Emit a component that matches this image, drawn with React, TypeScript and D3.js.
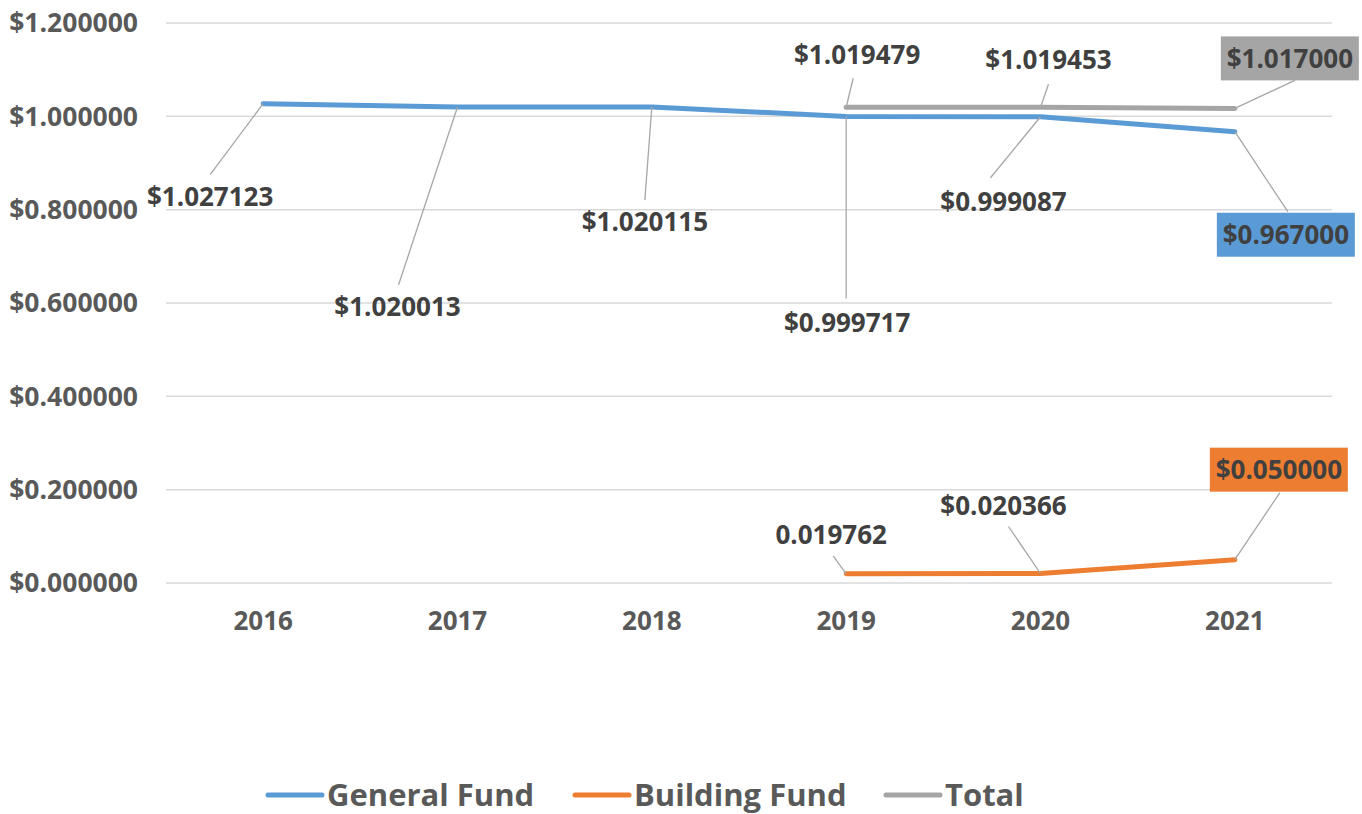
import React from "react";
import * as d3 from "d3";

const years = ["2016", "2017", "2018", "2019", "2020", "2021"];
const generalFund = [1.027123, 1.020013, 1.020115, 0.999717, 0.999087, 0.967];
const buildingFund = [null, null, null, 0.019762, 0.020366, 0.05];
const total = [null, null, null, 1.019479, 1.019453, 1.017];
const yTicks = [0, 0.2, 0.4, 0.6, 0.8, 1.0, 1.2];
const seriesNames = ["General Fund", "Building Fund", "Total"];
const colors = ["#5B9BD5", "#ED7D31", "#A5A5A5"];

// label placement: [seriesIndex, pointIndex, dx, dy, leaderDx, leaderDy, boxed, prefix$]
const labelPlacement: [number, number, number, number, number, number, boolean, boolean][] = [
  [0, 0, -53, 93, -53, 71, false, true],
  [0, 1, -60, 200, -59, 178, false, true],
  [0, 2, -7, 115, -7, 93, false, true],
  [0, 3, 1, 206, 0, 182, false, true],
  [0, 4, -37, 85, -50, 61, false, true],
  [0, 5, 51, 103, 53, 80, true, true],
  [2, 3, 11, -52, 7, -29, false, true],
  [2, 4, 8, -47, 8, -23, false, true],
  [2, 5, 55, -50, 60, -28, true, true],
  [1, 3, -15, -39, -13, -18, false, false],
  [1, 4, -37, -68, -32, -47, false, true],
  [1, 5, 44, -90, 45, -67, true, true],
];

const FONT = "'Open Sans', sans-serif";

export default function App() {
  const W = 1362, H = 814;
  const x = d3.scalePoint<string>().domain(years).range([166, 1332]).padding(0.5);
  const y = d3.scaleLinear().domain([0, 1.2]).range([583, 23]);
  const allSeries = [generalFund, buildingFund, total];
  const line = d3
    .line<number | null>()
    .defined((d) => d != null)
    .x((_, i) => x(years[i])!)
    .y((d) => y(d as number));

  const legendX = [268, 575, 886];

  return (
    <svg width={W} height={H} style={{ position: "absolute", left: 0, top: 0, background: "#fff" }} fontFamily={FONT}>
      {yTicks.map((t) => (
        <g key={t}>
          <line x1={166} x2={1332} y1={y(t)} y2={y(t)} stroke="#D9D9D9" strokeWidth={1.5} />
          <text x={138} y={y(t)} dy="0.35em" textAnchor="end" fontSize={26.5} fontWeight={700} fill="#595959">
            {"$" + t.toFixed(6)}
          </text>
        </g>
      ))}
      {years.map((yr) => (
        <text key={yr} x={x(yr)} y={621} dy="0.35em" textAnchor="middle" fontSize={26} fontWeight={700} fill="#595959">
          {yr}
        </text>
      ))}
      {allSeries.map((s, si) => (
        <path key={si} d={line(s) || ""} fill="none" stroke={colors[si]} strokeWidth={5} strokeLinecap="round" strokeLinejoin="round" />
      ))}
      {labelPlacement.map(([si, pi, dx, dy, ldx, ldy, boxed, dollar], k) => {
        const v = allSeries[si][pi] as number;
        const px = x(years[pi])!;
        const py = y(v);
        const cx = px + dx;
        const cy = py + dy;
        const txt = (dollar ? "$" : "") + v.toFixed(6);
        return (
          <g key={k}>
            <line x1={px} y1={py} x2={px + ldx} y2={py + ldy} stroke="#A6A6A6" strokeWidth={1.3} />
            {boxed && <rect x={cx - 69} y={cy - 22} width={138} height={44} fill={colors[si]} />}
            <text x={cx} y={cy} dy="0.35em" textAnchor="middle" fontSize={26} fontWeight={700} fill="#404040">
              {txt}
            </text>
          </g>
        );
      })}
      {seriesNames.map((n, i) => (
        <g key={n}>
          <line x1={legendX[i]} x2={legendX[i] + 54} y1={795} y2={795} stroke={colors[i]} strokeWidth={5} strokeLinecap="round" />
          <text x={legendX[i] + 59} y={795} dy="0.35em" fontSize={31} fontWeight={700} fill="#595959">
            {n}
          </text>
        </g>
      ))}
    </svg>
  );
}
